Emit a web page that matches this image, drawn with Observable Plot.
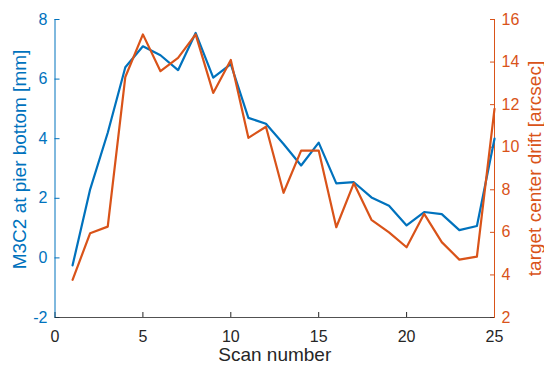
<!DOCTYPE html>
<html><head><meta charset="utf-8">
<script src="https://cdn.jsdelivr.net/npm/d3@7"></script>
<script src="https://cdn.jsdelivr.net/npm/@observablehq/plot@0.6"></script>
<style>
body{margin:0;background:#fff}
svg{font-family:"Liberation Sans",Arial,Helvetica,sans-serif}
</style>
</head><body><div id="chart"></div>
<script>
const scans = [1,2,3,4,5,6,7,8,9,10,11,12,13,14,15,16,17,18,19,20,21,22,23,24,25];
const m3c2 = [-0.25,2.3,4.2,6.4,7.1,6.8,6.3,7.55,6.05,6.5,4.7,4.5,3.82,3.1,3.87,2.5,2.54,2.03,1.75,1.09,1.54,1.47,0.93,1.07,4.0];
const drift = [3.77,5.96,6.27,13.3,15.3,13.57,14.2,15.3,12.55,14.1,10.44,10.96,7.86,9.84,9.84,6.24,8.31,6.59,6.0,5.3,6.87,5.54,4.72,4.86,11.8];
const xTicks = [0,5,10,15,20,25];
const leftTicks = [-2,0,2,4,6,8];
const rightTicks = [2,4,6,8,10,12,14,16];
const xLabel = "Scan number";
const leftLabel = "M3C2 at pier bottom [mm]";
const rightLabel = "target center drift [arcsec]";

const BLUE = "#0072BD", ORANGE = "#D95319", GRAY = "#262626";
const leftDomain = [-2, 8], rightDomain = [2, 16];
const toLeft = v => leftDomain[0] + (v - rightDomain[0]) * (leftDomain[1]-leftDomain[0])/(rightDomain[1]-rightDomain[0]);
const fromLeft = y => rightDomain[0] + (y - leftDomain[0]) * (rightDomain[1]-rightDomain[0])/(leftDomain[1]-leftDomain[0]);

const rows = scans.map((s,i) => ({scan: s, m3c2: m3c2[i], drift: drift[i]}));

const chart = Plot.plot({
  width: 544, height: 369,
  marginLeft: 54.5, marginRight: 50, marginTop: 19, marginBottom: 52,
  style: {background: "white", fontSize: "16px"},
  x: {domain: [0, 25]},
  y: {domain: leftDomain},
  marks: [
    Plot.axisX(xTicks, {tickSize: -5, tickPadding: 18, color: GRAY, fontSize: 16, label: null, tickFormat: d => String(d)}),
    Plot.axisY(leftTicks, {anchor: "left", tickSize: -5, tickPadding: 12.5, color: BLUE, fontSize: 16, label: null, tickFormat: d => String(d)}),
    Plot.axisY(rightTicks.map(toLeft), {anchor: "right", tickSize: -5, tickPadding: 12, color: ORANGE, fontSize: 16, label: null,
      tickFormat: d => String(Math.round(fromLeft(d)))}),
    Plot.ruleY([leftDomain[0]], {stroke: GRAY, strokeOpacity: 0.8}),
    Plot.ruleX([0], {stroke: BLUE}),
    Plot.ruleX([25], {stroke: ORANGE}),
    Plot.line(rows, {x: "scan", y: "m3c2", stroke: BLUE, strokeWidth: 2.2}),
    Plot.line(rows, {x: "scan", y: d => toLeft(d.drift), stroke: ORANGE, strokeWidth: 2.2}),
    Plot.text([xLabel], {frameAnchor: "bottom", textAnchor: "middle", dy: 43, fill: GRAY, fontSize: 19}),
    Plot.text([leftLabel], {frameAnchor: "left", textAnchor: "middle", lineAnchor: "middle", rotate: -90, dx: -35, dy: -9, fill: BLUE, fontSize: 19}),
    Plot.text([rightLabel], {frameAnchor: "right", textAnchor: "middle", lineAnchor: "middle", rotate: -90, dx: 40, dy: 0, fill: ORANGE, fontSize: 19})
  ]
});
document.getElementById("chart").appendChild(chart);
</script>
</body></html>
